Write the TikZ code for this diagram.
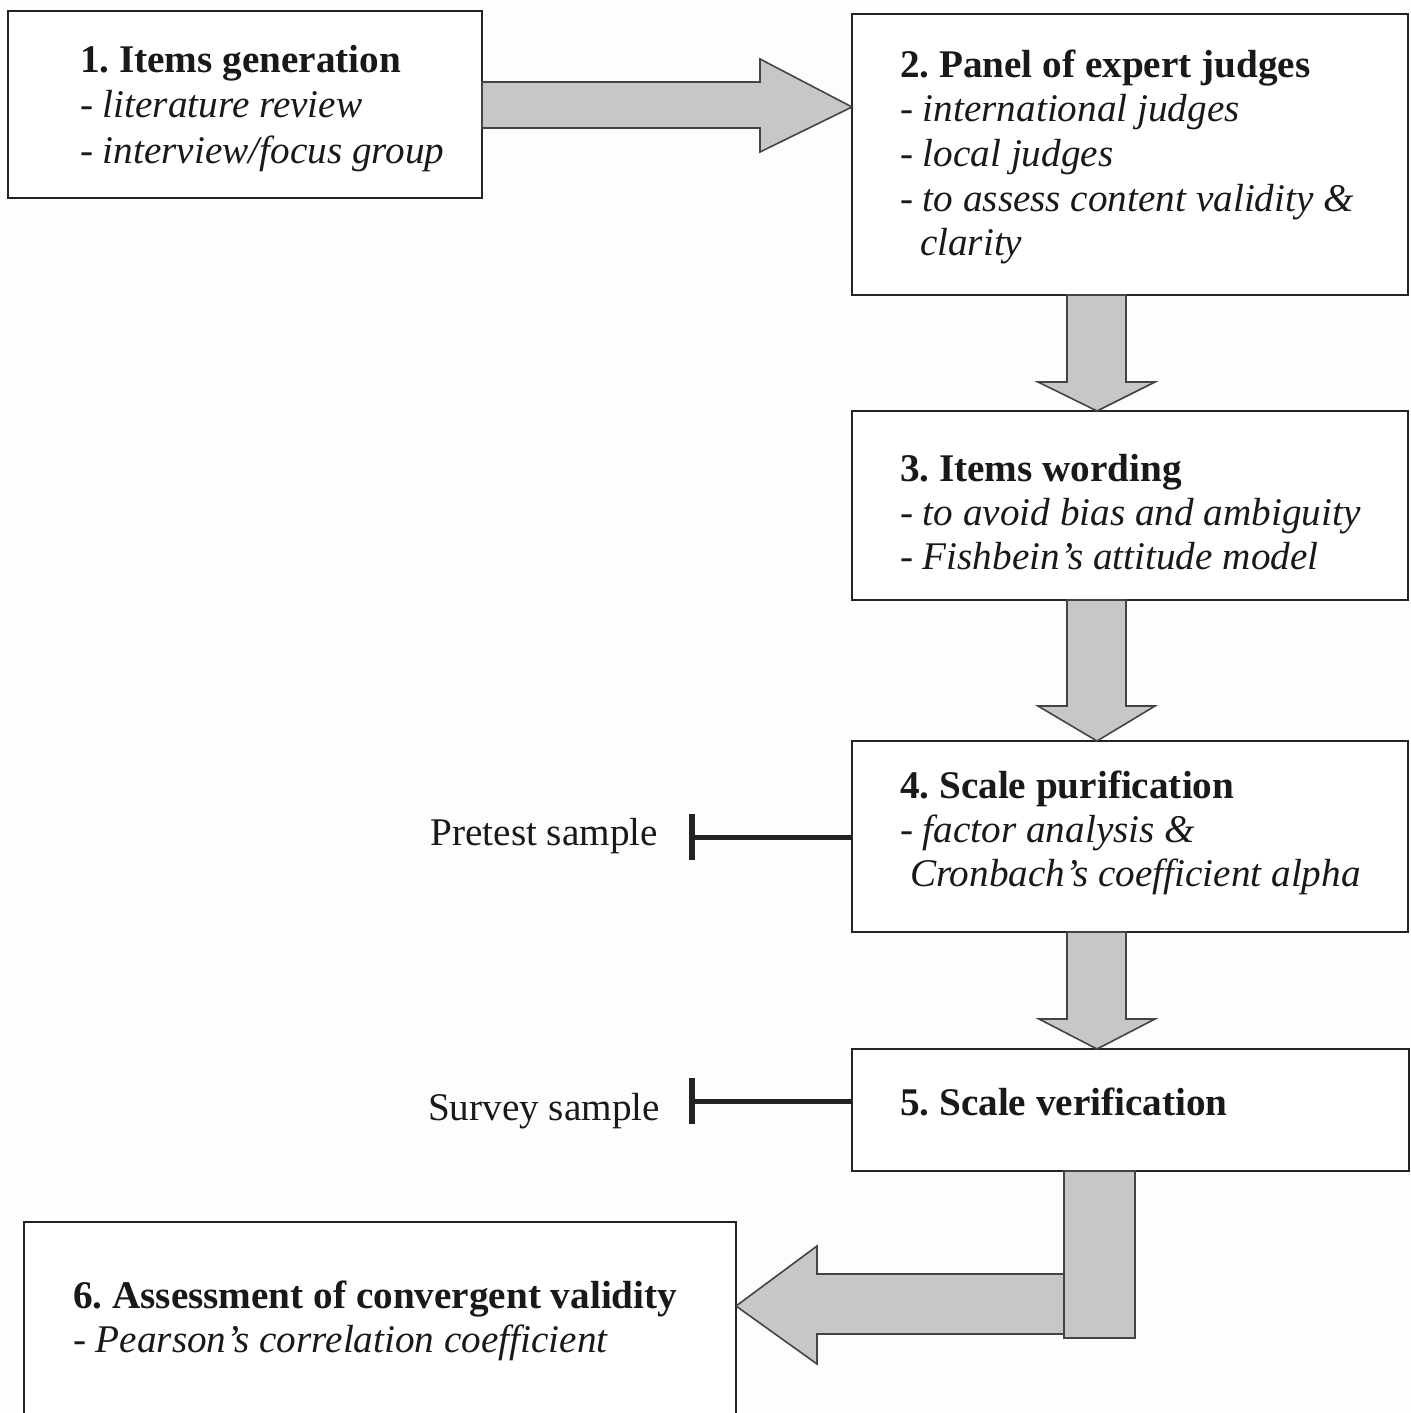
\documentclass[tikz,border=0pt]{standalone}
\usepackage{fontspec}
\setmainfont{Liberation Serif}
\usetikzlibrary{arrows.meta,calc}
\definecolor{ink}{RGB}{35,35,35}
\definecolor{arrowfill}{RGB}{198,200,200}
\definecolor{paper}{RGB}{252,253,253}
\frenchspacing

\begin{document}
\begin{tikzpicture}[x=0.5pt,y=-0.5pt,
  box/.style={draw=ink, line width=1pt, fill=white, rectangle, inner sep=0pt,
              outer sep=0pt, anchor=north west},
  txt/.style={anchor=base west, inner sep=0pt, outer sep=0pt, text=black!90,
              font=\fontsize{19.6}{22}\selectfont},
  head/.style={txt, font=\fontsize{19.6}{22}\selectfont\bfseries},
  item/.style={txt, font=\fontsize{19.6}{22}\selectfont\itshape},
  side/.style={txt, anchor=base east},
  blockarrow/.style={draw=ink!85, line width=0.8pt, fill=arrowfill, line join=miter},
  tbar/.style={draw=ink, line width=2.5pt, -{Bar[width=23pt,line width=3pt]}}]

% page
\clip (0,0) rectangle (1410,1413);
\fill[paper] (0,0) rectangle (1410,1413);

% stage boxes
\node[box, minimum width=237pt, minimum height=93.5pt]  (b1) at (8,11)    {};
\node[box, minimum width=278pt, minimum height=140.5pt] (b2) at (852,14)  {};
\node[box, minimum width=278pt, minimum height=94.5pt]  (b3) at (852,411) {};
\node[box, minimum width=278pt, minimum height=95.5pt]  (b4) at (852,741) {};
\node[box, minimum width=278.5pt, minimum height=61pt]  (b5) at (852,1049){};
\node[box, minimum width=356pt, minimum height=110pt]   (b6) at (24,1222) {};

% box texts
\node[head] (t1)  at (80,73)  {1. Items generation};
\node[item] (t1a) at (80,118) {- literature review};
\node[item] (t1b) at (80,163) {- interview/focus group};

\node[head] (t2)  at (900,78)  {2. Panel of expert judges};
\node[item] (t2a) at (900,122) {- international judges};
\node[item] (t2b) at (900,166) {- local judges};
\node[item] (t2c) at (900,211) {- to assess content validity \&};
\node[item] (t2d) at (920,255) {clarity};

\node[head] (t3)  at (900,481) {3. Items wording};
\node[item] (t3a) at (900,525) {- to avoid bias and ambiguity};
\node[item] (t3b) at (900,569) {- Fishbein’s attitude model};

\node[head] (t4)  at (900,798) {4. Scale purification};
\node[item] (t4a) at (900,842) {- factor analysis \&};
\node[item] (t4b) at (910,886) {Cronbach’s coefficient alpha};

\node[head] (t5)  at (900,1115) {5. Scale verification};

\node[head] (t6)  at (73,1308) {6. Assessment of convergent validity};
\node[item] (t6a) at (73,1352) {- Pearson’s correlation coefficient};

% sample labels and their bar connectors
\node[side] (pre) at (658,845)  {Pretest sample};
\node[side] (sur) at (660,1120) {Survey sample};
\coordinate (preend) at (689,837);
\coordinate (surend) at (689,1101);
\draw[tbar] (b4.west |- preend) -- (preend);
\draw[tbar] (b5.west |- surend) -- (surend);

% block arrow 1 -> 2
\draw[blockarrow] (b1.east |- 0,82) -- (760,82) -- (760,59) -- (b2.west |- 0,107)
  -- (760,152) -- (760,128) -- (b1.east |- 0,128) -- cycle;

% block arrows down the right column
\draw[blockarrow] (1067,0 |- b2.south) -- (1067,382) -- (1038,382) -- (1097,0 |- b3.north)
  -- (1155,382) -- (1126,382) -- (1126,0 |- b2.south) -- cycle;
\draw[blockarrow] (1067,0 |- b3.south) -- (1067,706) -- (1038,706) -- (1097,0 |- b4.north)
  -- (1155,706) -- (1126,706) -- (1126,0 |- b3.south) -- cycle;
\draw[blockarrow] (1067,0 |- b4.south) -- (1067,1019) -- (1039,1019) -- (1097,0 |- b5.north)
  -- (1155,1019) -- (1126,1019) -- (1126,0 |- b4.south) -- cycle;

% elbow arrow 5 -> 6
\draw[blockarrow] (1064,0 |- b5.south) rectangle (1135,1338);
\draw[blockarrow] (1064,1274) -- (817,1274) -- (817,1246) -- (b6.east |- 0,1306)
  -- (817,1364) -- (817,1334) -- (1064,1334) -- cycle;

\end{tikzpicture}
\end{document}
